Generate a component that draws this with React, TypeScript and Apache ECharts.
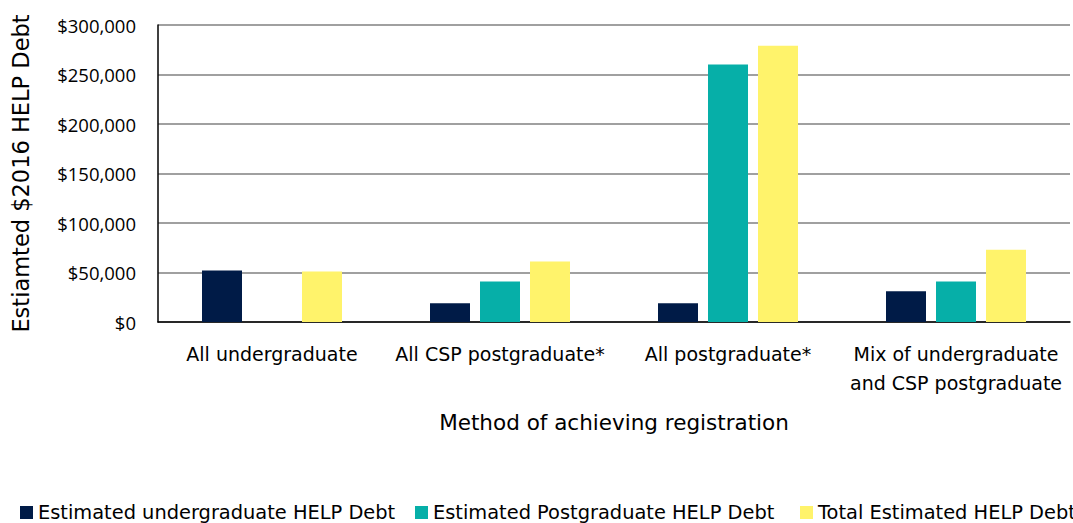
import React, { useEffect, useRef } from "react";
import * as echarts from "echarts";

const categories = [
  "All undergraduate",
  "All CSP postgraduate*",
  "All postgraduate*",
  "Mix of undergraduate\nand CSP postgraduate",
];
const undergradDebt = [52000, 19000, 19000, 31000];
const postgradDebt: (number | null)[] = [null, 41000, 260000, 41000];
const totalDebt = [51000, 61000, 279000, 73000];
const seriesNames = [
  "Estimated undergraduate HELP Debt",
  "Estimated Postgraduate HELP Debt",
  "Total Estimated HELP Debt",
];
const colors = ["#001b47", "#06afa8", "#fff36b"];

const FONT = "DejaVu Sans";

export default function App() {
  const ref = useRef<HTMLDivElement>(null);
  useEffect(() => {
    document.body.style.margin = "0";
    const chart = echarts.init(ref.current!, null, { renderer: "svg" });
    const textStyle = { fontFamily: FONT, fontSize: 19, color: "#000" };
    const legendPos = [20, 415, 800];
    chart.setOption({
      animation: false,
      textStyle: { fontFamily: FONT },
      grid: { left: 158, right: 3, top: 25, bottom: 201 },
      legend: seriesNames.map((n, i) => ({
        data: [n],
        left: legendPos[i],
        top: 503,
        itemWidth: 13,
        itemHeight: 13,
        icon: "rect",
        itemGap: 0,
        padding: 0,
        textStyle: { ...textStyle, fontSize: 19.4 },
      })),
      xAxis: {
        type: "category",
        data: categories,
        name: "Method of achieving registration",
        nameLocation: "middle",
        nameGap: 89,
        nameTextStyle: { ...textStyle, fontSize: 21.5 },
        axisLine: { lineStyle: { color: "#000", width: 1.5 } },
        axisTick: { show: false },
        axisLabel: { ...textStyle, interval: 0, margin: 17, lineHeight: 29 },
      },
      yAxis: {
        type: "value",
        min: 0,
        max: 300000,
        interval: 50000,
        name: "Estiamted $2016 HELP Debt",
        nameLocation: "middle",
        nameGap: 126,
        nameTextStyle: { ...textStyle, fontSize: 22.5 },
        axisLine: { show: true, lineStyle: { color: "#000", width: 1.5 } },
        axisTick: { show: false },
        splitLine: { lineStyle: { color: "#808080", width: 1.5 } },
        axisLabel: {
          ...textStyle,
          fontFamily: "Open Sans",
          fontSize: 18.5,
          margin: 22,
          formatter: (v: number) => "$" + v.toLocaleString("en-US"),
        },
      },
      series: [undergradDebt, postgradDebt, totalDebt].map((d, i) => ({
        type: "bar",
        name: seriesNames[i],
        data: d,
        barWidth: 40,
        barGap: "25%",
        itemStyle: { color: colors[i] },
      })),
    });
    return () => chart.dispose();
  }, []);
  return <div ref={ref} style={{ width: 1073, height: 523 }} />;
}
